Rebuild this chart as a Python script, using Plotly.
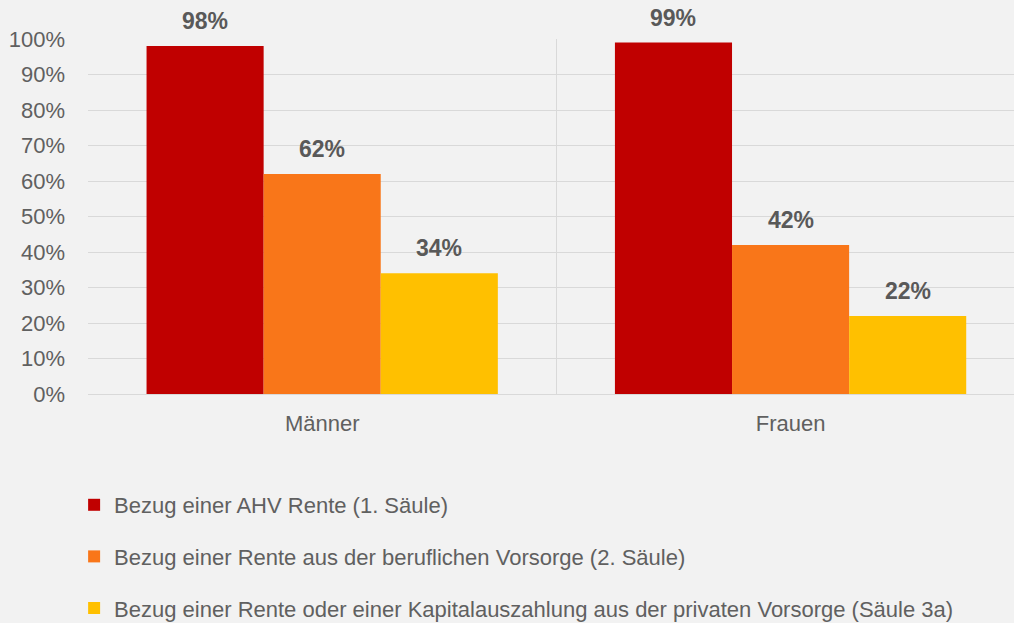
import plotly.graph_objects as go

categories = ["Männer", "Frauen"]
series_names = [
    "Bezug einer AHV Rente (1. Säule)",
    "Bezug einer Rente aus der beruflichen Vorsorge (2. Säule)",
    "Bezug einer Rente oder einer Kapitalauszahlung aus der privaten Vorsorge (Säule 3a)",
]
ahv = [98, 99]
bv = [62, 42]
s3a = [34, 22]
series_values = [ahv, bv, s3a]
colors = ["#C00000", "#F97619", "#FFC000"]
y_ticks = list(range(0, 101, 10))
y_ticktext = [f"{v}%" for v in y_ticks]

FONT = "Liberation Sans, Arial, sans-serif"
GRAY = "#606060"
BG = "#F2F2F2"

xpos = list(range(len(categories)))
bargap = 0.25
bar_w = (1 - bargap) / len(series_values)

fig = go.Figure()
for k, (name, vals, col) in enumerate(zip(series_names, series_values, colors)):
    fig.add_trace(go.Bar(
        x=xpos, y=vals, name=name, marker=dict(color=col, line=dict(width=0)),
        legendgroup=f"g{k}", hoverinfo="skip",
    ))
    for i, v in enumerate(vals):
        fig.add_annotation(
            x=xpos[i] + (k - 1) * bar_w, y=v, xref="x", yref="y",
            text=f"<b>{v}%</b>", showarrow=False, yanchor="bottom", yshift=10,
            font=dict(family=FONT, size=23, color="#595959"),
        )

fig.update_layout(
    width=1014, height=623,
    paper_bgcolor=BG, plot_bgcolor=BG,
    margin=dict(l=88, r=0, t=39, b=229, autoexpand=False),
    barmode="group", bargap=bargap, bargroupgap=0,
    font=dict(family=FONT, size=22, color=GRAY),
    showlegend=True,
    legend=dict(
        orientation="v", x=-0.015, xanchor="left", y=-0.2535, yanchor="top",
        traceorder="grouped", tracegroupgap=20,
        font=dict(family=FONT, size=22, color=GRAY), bgcolor="rgba(0,0,0,0)",
    ),
    xaxis=dict(
        range=[-0.5, 1.477], tickmode="array", tickvals=xpos, ticktext=categories,
        showgrid=False, zeroline=False, showline=False, ticks="",
        ticklabelstandoff=14, tickangle=0,
        tickfont=dict(family=FONT, size=22, color=GRAY),
        minor=dict(tickvals=[0.5], showgrid=True, gridcolor="#D9D9D9", gridwidth=1, ticks=""),
    ),
    yaxis=dict(
        range=[0, 100], tickmode="array", tickvals=y_ticks, ticktext=y_ticktext,
        showgrid=True, gridcolor="#D9D9D9", gridwidth=1,
        zeroline=True, zerolinecolor="#D9D9D9", zerolinewidth=1,
        showline=False, ticks="", ticklabelstandoff=22,
        tickfont=dict(family=FONT, size=22, color=GRAY),
    ),
)

fig.write_html(
    "out.html",
    config={"displayModeBar": False},
    post_script="document.body.style.margin='0';document.body.style.background='#F2F2F2';",
)
